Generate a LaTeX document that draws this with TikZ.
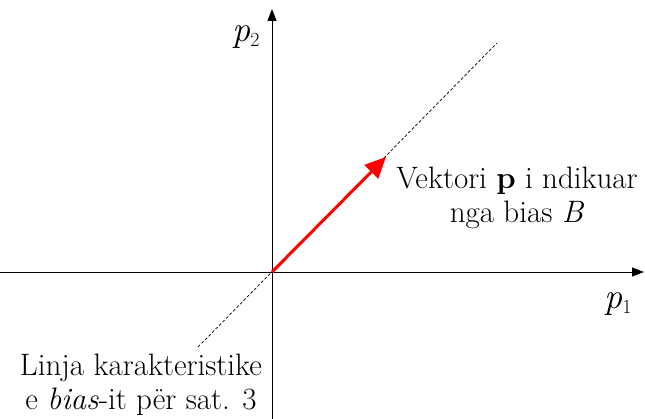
\documentclass[tikz,border=0pt]{standalone}
\usetikzlibrary{arrows.meta}
\begin{document}
\begin{tikzpicture}[x=1pt,y=-1pt,
  axis/.style={line width=0.9pt,-{Triangle[length=12pt,width=9pt]}},
  charline/.style={line width=0.7pt,dash pattern=on 3pt off 2pt},
  vec/.style={red,line width=3pt,-{Triangle[length=21pt,width=19pt]}},
  lbl/.style={font=\fontsize{31}{34}\selectfont,align=center,inner sep=0pt},
  plbl/.style={font=\fontsize{36}{36}\selectfont,inner sep=0pt}]
\useasboundingbox (0,0) rectangle (645,419);
\coordinate (O) at (272,272);
\coordinate (xs) at (0,272);
\coordinate (xe) at (644,272);
\coordinate (ys) at (272,419);
\coordinate (ye) at (272,9);
\coordinate (d1) at (198,347);
\coordinate (d2) at (497,43);
\coordinate (v) at (386,157);
\draw[axis] (xs) -- (xe);
\draw[axis] (ys) -- (ye);
\draw[charline] (d1) -- (d2);
\draw[vec] (O) -- (v);
\node[plbl] (p2) at (246,37) {\itshape p\raisebox{-0.35ex}{\upshape\fontsize{20}{20}\selectfont 2}};
\node[plbl] (p1) at (618,304) {\itshape p\raisebox{-0.35ex}{\upshape\fontsize{20}{20}\selectfont 1}};
\node[lbl] (vl) at (517,198) {Vektori \textbf{p} i ndikuar\\nga bias \textit{B}};
\node[lbl] (cl) at (141,385) {Linja karakteristike\\e \textit{bias}-it p\"er sat. 3};
\end{tikzpicture}
\end{document}
